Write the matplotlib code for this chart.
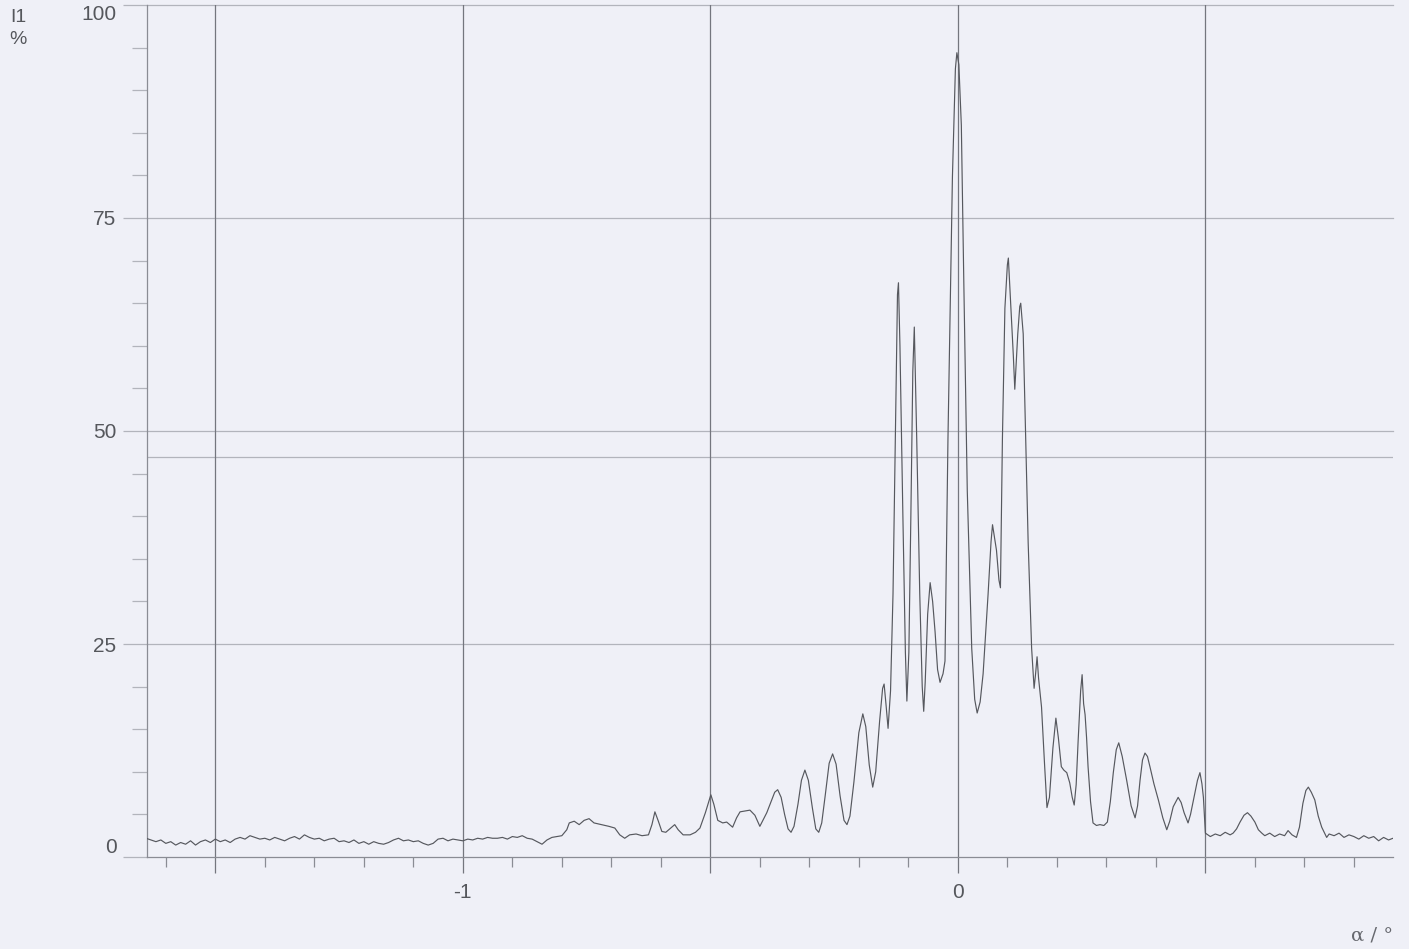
import matplotlib
matplotlib.use('Agg')
import matplotlib.pyplot as plt
from matplotlib.ticker import MultipleLocator

# digitized scan: alpha in degrees, I1 in percent
alpha_left = [-1.64, -1.63, -1.62, -1.61, -1.60, -1.59, -1.58, -1.57, -1.56, -1.55,
              -1.54, -1.53, -1.52, -1.51, -1.50, -1.49, -1.48, -1.47, -1.46, -1.45,
              -1.44, -1.43, -1.42, -1.41, -1.40, -1.39, -1.38, -1.37, -1.36, -1.35,
              -1.34, -1.33, -1.32, -1.31, -1.30, -1.29, -1.28, -1.27, -1.26, -1.25,
              -1.24, -1.23, -1.22, -1.21, -1.20, -1.19, -1.18, -1.17, -1.16, -1.15,
              -1.14, -1.13, -1.12, -1.11, -1.10, -1.09, -1.08, -1.07, -1.06, -1.05,
              -1.04, -1.03, -1.02, -1.01, -1.00, -0.99, -0.98, -0.97, -0.96, -0.95,
              -0.94, -0.93, -0.92, -0.91, -0.90, -0.89, -0.88, -0.87, -0.86, -0.85,
              -0.84, -0.83, -0.82, -0.81]
i1_left = [2.2, 2.0, 1.8, 2.0, 1.6, 1.8, 1.4, 1.7, 1.5, 1.9,
           1.4, 1.8, 2.0, 1.7, 2.1, 1.8, 2.0, 1.7, 2.1, 2.3,
           2.1, 2.5, 2.3, 2.1, 2.2, 2.0, 2.3, 2.1, 1.9, 2.2,
           2.4, 2.1, 2.6, 2.3, 2.1, 2.2, 1.9, 2.1, 2.2, 1.8,
           1.9, 1.7, 2.0, 1.6, 1.8, 1.5, 1.8, 1.6, 1.5, 1.7,
           2.0, 2.2, 1.9, 2.0, 1.8, 1.9, 1.6, 1.4, 1.6, 2.1,
           2.2, 1.9, 2.1, 2.0, 1.9, 2.1, 2.0, 2.2, 2.1, 2.3,
           2.2, 2.2, 2.3, 2.1, 2.4, 2.3, 2.5, 2.2, 2.1, 1.8,
           1.5, 2.0, 2.3, 2.4]

alpha_mid = [-0.80, -0.79, -0.785, -0.775, -0.765, -0.755, -0.745, -0.735, -0.72, -0.705,
             -0.693, -0.683, -0.673, -0.663, -0.650, -0.638, -0.625, -0.618, -0.612, -0.605,
             -0.598, -0.590, -0.580, -0.572, -0.565, -0.555, -0.541, -0.530, -0.521, -0.510,
             -0.499, -0.493, -0.485, -0.475, -0.467, -0.455, -0.447, -0.440, -0.430, -0.420,
             -0.410, -0.400, -0.393, -0.386, -0.378, -0.370, -0.364, -0.357, -0.350, -0.343,
             -0.337, -0.331, -0.323, -0.316, -0.309, -0.302, -0.294, -0.287, -0.281, -0.275,
             -0.268, -0.260, -0.253, -0.246, -0.238, -0.230, -0.224, -0.218, -0.210, -0.200,
             -0.192, -0.186, -0.179, -0.172, -0.166, -0.158, -0.152, -0.149, -0.145, -0.141,
             -0.136, -0.131, -0.126, -0.122, -0.120, -0.117, -0.111, -0.106, -0.103, -0.099,
             -0.095, -0.091, -0.088, -0.083, -0.077, -0.072, -0.069, -0.066, -0.061, -0.056,
             -0.051, -0.046, -0.041, -0.036, -0.030, -0.026, -0.020, -0.011, -0.005, -0.002,
             0.002, 0.007, 0.012, 0.019, 0.028, 0.034, 0.039, 0.045, 0.051, 0.061,
             0.067, 0.070, 0.074, 0.078, 0.083, 0.086, 0.090, 0.095, 0.100, 0.102,
             0.106, 0.112, 0.115, 0.121, 0.125, 0.127, 0.132, 0.137, 0.142, 0.149,
             0.154, 0.157, 0.160, 0.163, 0.169, 0.175, 0.180, 0.185, 0.192, 0.198,
             0.203, 0.209, 0.214, 0.220, 0.226, 0.231, 0.235, 0.239, 0.243, 0.248,
             0.251, 0.254, 0.257, 0.260, 0.263, 0.268, 0.273, 0.280, 0.287, 0.295,
             0.302, 0.308, 0.314, 0.320, 0.325, 0.332, 0.341, 0.350, 0.358, 0.363,
             0.368, 0.373, 0.378, 0.383, 0.388, 0.396, 0.405, 0.414, 0.422, 0.428,
             0.435, 0.445, 0.451, 0.457, 0.465, 0.470, 0.477, 0.484, 0.489, 0.493,
             0.496]
i1_mid = [2.5, 3.2, 4.0, 4.2, 3.8, 4.3, 4.5, 4.0, 3.8, 3.6,
          3.4, 2.6, 2.2, 2.6, 2.7, 2.5, 2.6, 3.8, 5.3, 4.2,
          3.0, 2.9, 3.4, 3.8, 3.2, 2.6, 2.6, 2.9, 3.4, 5.2,
          7.3, 6.2, 4.3, 4.0, 4.1, 3.5, 4.6, 5.3, 5.4, 5.5,
          4.9, 3.6, 4.4, 5.2, 6.4, 7.6, 7.9, 7.0, 5.0, 3.3,
          2.9, 3.6, 6.2, 9.0, 10.2, 9.0, 5.8, 3.3, 2.9, 4.0,
          7.2, 11.0, 12.1, 10.9, 7.2, 4.3, 3.8, 4.8, 8.8, 14.6,
          16.8, 15.3, 10.8, 8.2, 10.0, 16.0, 19.8, 20.3, 17.8, 15.1,
          19.5, 30.9, 50.0, 66.0, 67.4, 60.0, 39.8, 24.0, 18.3, 24.0,
          39.8, 57.0, 62.2, 48.8, 30.9, 20.0, 17.1, 20.5, 28.5, 32.2,
          30.0, 26.4, 22.0, 20.5, 21.5, 23.0, 49.1, 79.8, 92.5, 94.4,
          93.0, 85.9, 67.5, 43.0, 24.5, 18.5, 16.9, 18.2, 21.5, 30.8,
          37.0, 39.0, 37.5, 36.0, 32.5, 31.6, 49.1, 64.4, 69.5, 70.3,
          65.7, 58.9, 54.9, 61.4, 64.6, 65.0, 61.4, 49.1, 36.9, 24.5,
          19.8, 21.5, 23.5, 21.0, 17.6, 11.0, 5.8, 7.0, 12.8, 16.3,
          14.0, 10.6, 10.2, 9.9, 8.7, 7.0, 6.1, 8.5, 13.7, 19.5,
          21.4, 18.0, 16.7, 14.0, 10.6, 6.5, 4.0, 3.7, 3.8, 3.7,
          4.1, 6.5, 9.9, 12.6, 13.4, 11.8, 9.0, 6.0, 4.6, 6.0,
          9.0, 11.4, 12.2, 11.8, 10.6, 8.6, 6.7, 4.6, 3.2, 4.2,
          5.9, 7.0, 6.4, 5.2, 4.0, 5.0, 7.0, 9.0, 9.9, 8.6,
          7.0]

alpha_right = [0.500, 0.51, 0.52, 0.53, 0.54, 0.55, 0.556, 0.563, 0.570, 0.578,
               0.585, 0.592, 0.600, 0.607, 0.614, 0.62, 0.63, 0.64, 0.65, 0.66,
               0.667, 0.675, 0.684, 0.690, 0.697, 0.703, 0.708, 0.714, 0.721, 0.728,
               0.735, 0.745, 0.75, 0.76, 0.77, 0.78, 0.79, 0.80, 0.81, 0.82,
               0.83, 0.84, 0.85, 0.86, 0.87, 0.879]
i1_right = [2.8, 2.4, 2.7, 2.5, 2.9, 2.6, 2.8, 3.3, 4.1, 4.9,
            5.2, 4.8, 4.1, 3.2, 2.8, 2.5, 2.8, 2.4, 2.7, 2.5,
            3.1, 2.6, 2.3, 3.5, 6.3, 7.8, 8.2, 7.6, 6.7, 4.8,
            3.5, 2.3, 2.7, 2.5, 2.8, 2.3, 2.6, 2.4, 2.1, 2.5,
            2.2, 2.4, 1.9, 2.3, 2.0, 2.2]

grid_levels = [25, 50, 75, 100]
threshold_level = 47
x_major = [-1.5, -1.0, -0.5, 0.0, 0.5]
x_labels = ['', '-1', '', '0', '']

alpha = alpha_left + alpha_mid + alpha_right
i1 = i1_left + i1_mid + i1_right

bg = '#eff0f7'
plt.rcParams['font.family'] = ['Liberation Sans', 'DejaVu Sans']

fig = plt.figure(figsize=(14.09, 9.49), dpi=100, facecolor=bg)
ax = fig.add_axes([147/1409, 92/949, 1246/1409, 852/949], facecolor=bg)

for lev in grid_levels:
    ax.axhline(lev, color='#b2b4bc', lw=0.9, clip_on=False, zorder=1)
ax.axhline(threshold_level, color='#b2b4bc', lw=0.9, zorder=1)
for xv in x_major:
    ax.axvline(xv, color='#74767e', lw=0.9, zorder=1)

ax.plot(alpha, i1, color='#56585e', lw=0.85, zorder=3)

ax.set_xlim(-1.638, 0.879)
ax.set_ylim(0, 100)

for s in ['top', 'right']:
    ax.spines[s].set_visible(False)
for s in ['left', 'bottom']:
    ax.spines[s].set_color('#8a8c94')
    ax.spines[s].set_linewidth(0.9)

ax.set_xticks(x_major)
ax.set_xticklabels(x_labels)
ax.xaxis.set_minor_locator(MultipleLocator(0.1))
ax.tick_params(axis='x', which='major', length=11.5, width=0.9, color='#74767e',
               labelsize=15, labelcolor='#55575c', pad=7)
ax.tick_params(axis='x', which='minor', length=7.5, width=0.9, color='#8a8c94')

ax.set_yticks([0, 25, 50, 75, 100])
ax.yaxis.set_minor_locator(MultipleLocator(5))
ax.tick_params(axis='y', which='major', length=17, width=0.9, color='#b2b4bc',
               labelsize=15, labelcolor='#55575c', pad=5)
ax.tick_params(axis='y', which='minor', length=11, width=0.9, color='#b2b4bc')
ylabels = ax.get_yticklabels()
ylabels[0].set_va('bottom')
ylabels[-1].set_va('top')

fig.text(18/1409, 1 - 17/949, 'I1', fontsize=14, color='#55575c', ha='center', va='center')
fig.text(18/1409, 1 - 40/949, '%', fontsize=14, color='#55575c', ha='center', va='center')
fig.text(1372/1409, 1 - 936/949, 'α / °', fontsize=14, color='#66686e', ha='center',
         va='center', family=['DejaVu Serif'])

fig.savefig('out.png', dpi=100, facecolor=bg)
